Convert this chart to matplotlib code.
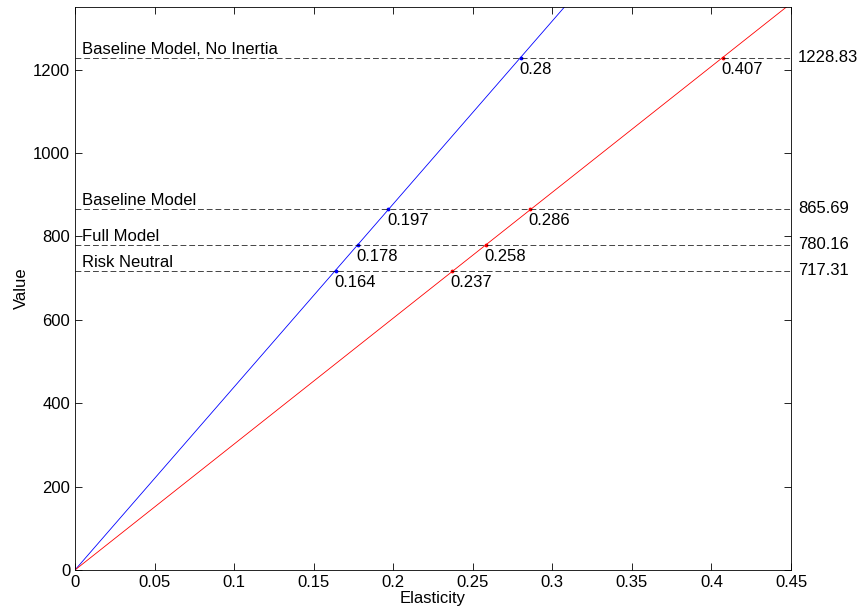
import matplotlib
matplotlib.use('Agg')
import matplotlib.pyplot as plt

plt.rcParams['font.family'] = ['Liberation Sans', 'DejaVu Sans']

# model values (horizontal reference lines)
models = ['Baseline Model, No Inertia', 'Baseline Model', 'Full Model', 'Risk Neutral']
values = [1228.83, 865.69, 780.16, 717.31]

# elasticities where each curve crosses the model values
blue_elast = [0.28, 0.197, 0.178, 0.164]
red_elast = [0.407, 0.286, 0.258, 0.237]

x_max = 0.45
y_max = 1350

fig = plt.figure(figsize=(8.57, 6.15), dpi=100)
ax = fig.add_axes([0.0875, 0.0732, 0.8355, 0.9154])

# straight lines through the origin
for elast, col in [(blue_elast, 'b'), (red_elast, 'r')]:
    k = values[0] / elast[0]
    ax.plot([0, x_max], [0, k * x_max], color=col, lw=0.6)
    ax.plot(elast, values, '.', color=col, ms=3.5)
    for e, v in zip(elast, values):
        ax.annotate('%g' % e, (e, v), xytext=(-1, -3), textcoords='offset points',
                    ha='left', va='top', fontsize=12)

for name, v in zip(models, values):
    ax.axhline(v, color='k', ls=(0, (7, 3.5)), lw=0.6, alpha=0.85)
    ax.annotate(name, (0, v), xytext=(5, 0.5), textcoords='offset points',
                ha='left', va='bottom', fontsize=12)
    ax.annotate('%.2f' % v, (x_max, v), xytext=(5, 0), textcoords='offset points',
                ha='left', va='center', fontsize=12, annotation_clip=False)

ax.set_xlim(0, x_max)
ax.set_ylim(0, y_max)
ax.set_xticks([0, 0.05, 0.1, 0.15, 0.2, 0.25, 0.3, 0.35, 0.4, 0.45])
ax.set_xticklabels(['0', '0.05', '0.1', '0.15', '0.2', '0.25', '0.3', '0.35', '0.4', '0.45'])
ax.set_yticks([0, 200, 400, 600, 800, 1000, 1200])
ax.tick_params(direction='in', top=True, right=True, labelsize=12, length=5, width=0.6)
for s in ax.spines.values():
    s.set_linewidth(0.6)
ax.set_xlabel('Elasticity', fontsize=12, labelpad=1)
ax.set_ylabel('Value', fontsize=12, labelpad=3)

fig.savefig('out.png', dpi=100)
